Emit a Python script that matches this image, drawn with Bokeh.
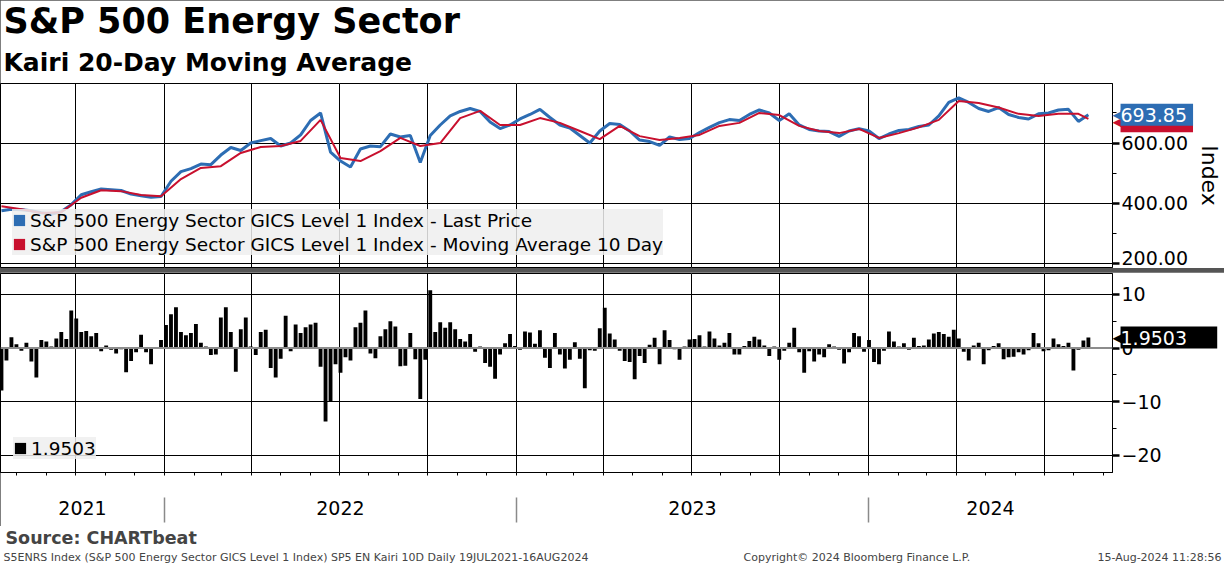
import pandas as pd
from bokeh.plotting import figure
from bokeh.layouts import column
from bokeh.models import (ColumnDataSource, Range1d, LinearAxis, FixedTicker, Grid, Legend, LegendItem,
                          Span, Title, Label, NumeralTickFormatter, DatetimeTickFormatter)
from bokeh.core.properties import value
from bokeh.embed import file_html
from bokeh.resources import INLINE

FONT = "DejaVu Sans"
BLUE = "#2d6db3"
RED = "#c8102e"
NBSP = "\u00a0"

# S5ENRS last price (roughly every 10 days)
price = [375, 380, 378, 375, 368, 363, 372, 395, 428, 438,
         447, 445, 442, 430, 425, 420, 422, 473, 505, 515,
         530, 528, 560, 585, 575, 600, 608, 615, 590, 600,
         627, 675, 700, 570, 540, 520, 580, 590, 588, 630,
         620, 625, 535, 625, 660, 690, 705, 715, 705, 670,
         648, 660, 680, 695, 712, 685, 660, 650, 625, 600,
         640, 665, 662, 640, 610, 605, 592, 620, 612, 615,
         635, 652, 668, 678, 675, 695, 710, 700, 675, 697,
         660, 645, 640, 638, 622, 640, 648, 640, 615, 630,
         642, 645, 655, 660, 690, 735, 750, 735, 715, 705,
         718, 695, 685, 680, 697, 700, 710, 712, 672, 693.85]

# 10 day moving average (roughly every 20 days)
moving_avg = [390, 380, 367, 370, 418, 443, 440, 427, 423, 480,
              517, 523, 567, 587, 590, 607, 677, 550, 540, 573,
              617, 590, 600, 683, 707, 660, 660, 683, 667, 640,
              613, 657, 623, 610, 617, 627, 657, 667, 700, 693,
              657, 640, 633, 647, 617, 633, 652, 677, 740, 733,
              718, 697, 690, 697, 697, 680.6]

# Kairi 10D (% gap between price and moving average), roughly every 5 days
kairi = [-7.9, -2.3, 2.0, 0.7, -0.5, 1.0, -2.5, -5.5, 1.5, 1.2,
         0.3, 1.8, 3.0, 1.7, 7.0, 5.5, 3.0, 3.2, 2.2, 2.8,
         -0.6, 0.5, -0.3, -1.0, -0.2, -4.5, -2.4, -0.8, 2.5, -0.8,
         -3.0, 0.2, 1.5, 4.3, 6.3, 7.6, 3.0, 2.4, 2.8, 4.5,
         1.0, 0.3, -1.3, -1.2, 5.7, 7.6, 3.0, -4.4, 3.5, 5.7,
         0.3, -1.3, 3.0, 3.4, -3.7,
         -5.5, -2.0, 6.0, -0.6, 4.4, 2.8, 3.9, 4.4, 4.7, -3.5,
         -13.7, -10.0, -3.0, -4.6, -1.7, -2.3, 3.9, 4.7, 7.0, -1.0,
         -1.9, 2.2, 3.5, 5.0, 4.0, -3.4, -3.3, 2.8, -2.1, -9.5,
         -2.2, 10.8, 3.0, 4.8, 3.8, 4.8, 3.5, 1.7, 1.2, 2.6,
         -0.7, 0.3, -2.8, -3.5, -5.7, -1.2, 0.9, 2.6, 0.4, -0.3,
         3.1, 2.9, 0.8, 3.3, -1.8,
         -3.7, 2.8, -1.2, -3.8, -2.2, 1.1, -2.0, -7.5, -0.4, -0.5,
         3.7, 7.5, 2.7, 1.6, -0.5, -2.4, -2.6, -5.8, -1.5, -2.8,
         0.6, 1.9, -3.0, 3.3, 1.5, -0.2, -2.2, 0.3, 1.6, 1.7,
         2.4, 0.3, 3.1, 1.8, 0.5, 1.0, 2.8, -1.2, -1.2, 0.4,
         1.3, 2.1, 1.6, 0.5, -1.5, 0.3, -2.2, -0.5, 1.0, 3.8,
         -0.8, -4.6, -0.6, -2.5, -1.2,
         -1.7, 0.7, 0.3, -0.3, -2.9, -0.8, 2.8, 2.2, -0.7, 1.5,
         -2.6, -3.0, -0.5, 3.1, 1.2, 0.3, 0.9, -0.3, 1.9, 0.4,
         0.5, 1.6, 2.7, 3.0, 2.6, 2.1, 3.4, 1.8, -0.7, -2.3,
         0.5, 1.0, -3.0, -0.4, 0.4, 0.9, -2.1, -1.7, -1.6, -0.8,
         -1.2, -0.4, 2.8, 0.9, -0.6, -0.4, 1.8, 0.7, 0.4, 1.0,
         -4.2, -0.3, 1.4, 1.9503]

first_day = "2021-07-16"
last_day = "2024-08-16"
price_dates = pd.date_range(first_day, last_day, periods=len(price))
ma_dates = list(price_dates[::2]) + [price_dates[-1]]
kairi_dates = pd.date_range(first_day, last_day, periods=len(kairi))

x_start = pd.Timestamp("2021-07-15")
x_end = pd.Timestamp("2024-09-10")
x_range = Range1d(x_start, x_end)
edge = x_end - pd.Timedelta(days=1)   # anchor for the tags just inside the right edge


def to_ms(stamps):
    return [int((t - pd.Timestamp("1970-01-01")) / pd.Timedelta(milliseconds=1)) for t in stamps]


months = pd.date_range("2021-08-01", "2024-09-01", freq="MS")
quarters = [m for m in months if m.month in (1, 4, 7, 10)]
year_starts = [pd.Timestamp(f"{y}-01-01") for y in (2022, 2023, 2024)]
year_mids = []
for y in (2021, 2022, 2023, 2024):
    a = max(x_start, pd.Timestamp(f"{y}-01-01"))
    b = min(x_end, pd.Timestamp(f"{y + 1}-01-01"))
    year_mids.append(a + (b - a) / 2)


def style_right_axis(ax):
    ax.axis_line_color = "black"
    ax.major_tick_line_color = "black"
    ax.major_tick_line_width = 2.5
    ax.major_tick_out = 7
    ax.major_tick_in = 0
    ax.minor_tick_line_color = "black"
    ax.minor_tick_out = 4
    ax.minor_tick_in = 0
    ax.major_label_standoff = 2
    ax.major_label_text_font = FONT
    ax.major_label_text_font_size = "19px"
    ax.major_label_text_color = "black"


def add_tag(p, y, color, text):
    # last-value tag over the right axis: small arrow plus a filled box (drawn unclipped)
    p.text(x=[edge], y=[y], text=["\u25c0"], text_color=color, text_font=value(FONT),
           text_font_size="16px", text_baseline="middle", x_offset=1, level="overlay")
    p.text(x=[edge], y=[y], text=[text], text_color="white", text_font=value(FONT),
           text_font_size="19px", text_baseline="middle", x_offset=9,
           background_fill_color=color, background_fill_alpha=1.0, level="overlay")


def make_legend(items, pad):
    return Legend(items=items, location="bottom_left", margin=pad, padding=pad, spacing=2,
                  glyph_width=14, glyph_height=14, label_standoff=4, label_height=22,
                  label_text_font=FONT, label_text_font_size="18.5px", label_text_color="black",
                  background_fill_color="#efefef", background_fill_alpha=0.85, border_line_color=None)


# ---- top panel: price and moving average
p1 = figure(width=1224, height=268, x_range=x_range, y_range=Range1d(186, 798),
            x_axis_location=None, y_axis_location="right", toolbar_location=None, tools="",
            output_backend="svg", title=None, min_border_left=0, min_border_right=112,
            min_border_top=0, min_border_bottom=1)
p1.outline_line_color = "black"

p1.add_layout(Title(text="Kairi 20-Day Moving Average", text_font=FONT, text_font_size="25px",
                    text_font_style="bold", text_color="black", align="left", offset=3, standoff=13), "above")
p1.add_layout(Title(text="S&P 500 Energy Sector", text_font=FONT, text_font_size="35px",
                    text_font_style="bold", text_color="black", align="left", offset=3, standoff=-3), "above")

p1.add_layout(Grid(dimension=0, ticker=FixedTicker(ticks=to_ms(quarters)), grid_line_color="black"))
p1.ygrid.ticker = FixedTicker(ticks=[200, 400, 600])
p1.ygrid.grid_line_color = "black"

p1.yaxis.ticker = FixedTicker(ticks=[200, 400, 600], minor_ticks=[300, 500, 700])
p1.yaxis.formatter = NumeralTickFormatter(format="0.00")
p1.yaxis.major_label_overrides = {200: ""}
style_right_axis(p1.yaxis[0])
p1.yaxis.axis_label = "Index"
p1.yaxis.axis_label_text_font = FONT
p1.yaxis.axis_label_text_font_size = "22px"
p1.yaxis.axis_label_text_font_style = "normal"
p1.yaxis.axis_label_text_color = "black"
p1.yaxis.axis_label_standoff = 6
# the lowest tick label sits a little above its tick, clear of the panel edge
p1.text(x=[edge], y=[218], text=["200.00"], text_color="black", text_font=value(FONT),
        text_font_size="19px", text_baseline="middle", x_offset=10, level="overlay")

p1.line(price_dates, price, line_color=BLUE, line_width=3)
p1.line(ma_dates, moving_avg, line_color=RED, line_width=2)

# legend swatches (no visible marks in the plot)
swatch = ColumnDataSource(dict(x=[price_dates[0]], top=[float("nan")]))
sw_blue = p1.vbar(x="x", top="top", width=1, source=swatch, fill_color=BLUE, line_color=None)
sw_red = p1.vbar(x="x", top="top", width=1, source=swatch, fill_color=RED, line_color=None)
p1.add_layout(make_legend([
    LegendItem(label="S&P 500 Energy Sector GICS Level 1 Index - Last Price", renderers=[sw_blue]),
    LegendItem(label="S&P 500 Energy Sector GICS Level 1 Index - Moving Average 10 Day", renderers=[sw_red]),
], 12))

add_tag(p1, moving_avg[-1] - 8, RED, NBSP * 12)
add_tag(p1, price[-1], BLUE, f"{price[-1]:.2f}" + NBSP)

# ---- bottom panel: Kairi bars
p2 = figure(width=1224, height=254, x_range=x_range, y_range=Range1d(-23.2, 13.9),
            x_axis_location=None, y_axis_location="right", toolbar_location=None, tools="",
            output_backend="svg", title=None, min_border_left=0, min_border_right=112,
            min_border_top=1, min_border_bottom=54)
p2.outline_line_color = "black"

p2.add_layout(Grid(dimension=0, ticker=FixedTicker(ticks=to_ms(quarters)), grid_line_color="black"))
p2.ygrid.ticker = FixedTicker(ticks=[-20, -10, 10])
p2.ygrid.grid_line_color = "black"

p2.yaxis.ticker = FixedTicker(ticks=[-20, -10, 0, 10], minor_ticks=[-15, -5, 5])
style_right_axis(p2.yaxis[0])

bars = p2.vbar(x=kairi_dates, top=kairi, bottom=0, width=4.0 * 86400000, fill_color="black", line_color=None)
p2.add_layout(Span(location=0, dimension="width", line_color="#8c8c8c", line_width=2))

bar_swatch = p2.vbar(x="x", top="top", width=1, source=ColumnDataSource(dict(x=[kairi_dates[0]], top=[float("nan")])),
                     fill_color="black", line_color=None)
p2.add_layout(make_legend([LegendItem(label=f"{kairi[-1]:.4f}", renderers=[bar_swatch])], 13))

add_tag(p2, kairi[-1], "black", f"{kairi[-1]:.4f}" + NBSP * 5)

# month ticks under the frame (invisible long major ticks reserve the band)
month_axis = LinearAxis(ticker=FixedTicker(ticks=to_ms(months), minor_ticks=to_ms(months)),
                        major_tick_out=25, major_tick_in=0, major_tick_line_color=None,
                        minor_tick_out=3, minor_tick_in=0, minor_tick_line_color="black",
                        axis_line_color="black", major_label_text_color=None)
p2.add_layout(month_axis, "below")

# year labels with separators at the year boundaries
year_axis = LinearAxis(ticker=FixedTicker(ticks=to_ms(year_mids), minor_ticks=to_ms(year_starts)),
                       formatter=DatetimeTickFormatter(days="%Y", months="%Y", years="%Y"),
                       major_tick_out=0, major_tick_in=0, major_tick_line_color=None,
                       minor_tick_out=25, minor_tick_in=0, minor_tick_line_color="#8a8a8a",
                       minor_tick_line_width=1.5, axis_line_color=None, major_label_standoff=-22,
                       major_label_text_font=FONT, major_label_text_font_size="19px",
                       major_label_text_color="black")
p2.add_layout(year_axis, "below")

# ---- footer
foot = figure(width=1224, height=40, x_range=Range1d(0, 1224), y_range=Range1d(0, 40),
              x_axis_location=None, y_axis_location=None, toolbar_location=None, tools="",
              output_backend="svg", title=None, min_border=0)
foot.outline_line_color = None
foot.grid.visible = False
foot.add_layout(Label(x=5, y=29, text="Source: CHARTbeat", text_font=FONT, text_font_size="17.5px",
                      text_font_style="bold", text_baseline="middle"))
foot.add_layout(Label(x=3, y=9, text="S5ENRS Index (S&P 500 Energy Sector GICS Level 1 Index) SP5 EN Kairi 10D  Daily 19JUL2021-16AUG2024",
                      text_font=FONT, text_font_size="11px", text_baseline="middle"))
foot.add_layout(Label(x=743, y=9, text="Copyright\u00a9 2024 Bloomberg Finance L.P.",
                      text_font=FONT, text_font_size="11px", text_baseline="middle"))
foot.add_layout(Label(x=1221, y=9, text="15-Aug-2024 11:28:56", text_font=FONT, text_font_size="11px",
                      text_baseline="middle", text_align="right"))

panels = column(p1, p2, spacing=4, styles={"background-color": "#555555"})
page = column(panels, foot, spacing=0)

open("out.html", "w").write(file_html(page, INLINE))
